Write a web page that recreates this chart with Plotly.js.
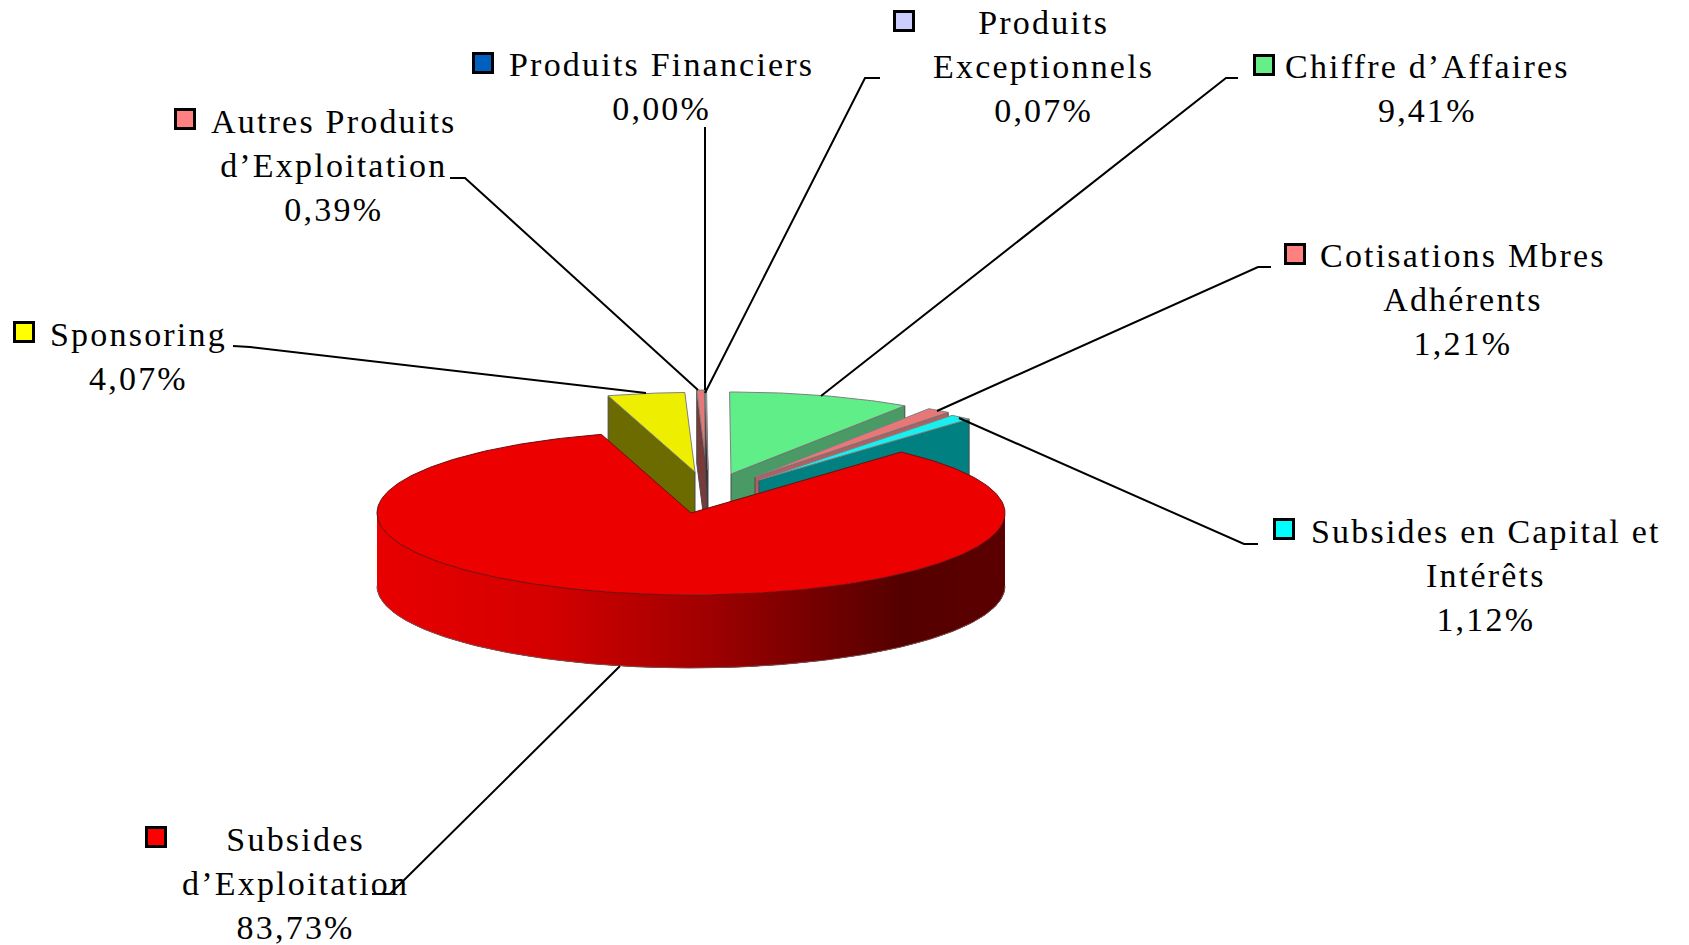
<!DOCTYPE html>
<html><head><meta charset="utf-8">
<script src="https://cdn.plot.ly/plotly-3.0.1.min.js"></script>
<style>html,body{margin:0;padding:0;background:#fff}#c{width:1689px;height:945px}
.annotation-text{letter-spacing:2.2px}</style>
</head><body><div id="c"></div>
<script>
// ---- data, in pie order (clockwise from the first slice) ----
const categories = ["Subsides<br>d’Exploitation","Sponsoring","Autres Produits<br>d’Exploitation","Produits Financiers","Produits<br>Exceptionnels","Chiffre d’Affaires","Cotisations Mbres<br>Adhérents","Subsides en Capital et<br>Intérêts"];
const values = [83.73,4.07,0.39,0.00,0.07,9.41,1.21,1.12];
const keyColors = ["#ff0000","#ffff00","#ff8080","#0060c0","#ccccff","#66ee88","#ff8080","#00ffff"];
const topColors = ["#ec0000","#eeee00","#e87878","#0060c0","#c0c0f0","#60ee88","#e87878","#18f0f0"];
const sideColors = ["#a00000","#6b6b00","#7a3a3a","#003060","#3a2a3a","#4a9a66","#b06060","#008080"];
// ---- layout of the drawing (axis units = pixels) ----
const cx = 691, cy = 513, rx = 314, ry = 82, depth = 73, startAngle = 42;
const sliceScale = [1,0.97,0.975,0.975,0.975,1,1,1];
const sliceShiftX = [0,4,16,17,17,40,64,68];
const sliceShiftY = [0,-41,-43,-43,-43,-39,-36,-33];
const labelX = [295,138,334,661,1043,1427,1463,1486];
const labelY = [883,356,165,86,66,88,299,575];
const keyX = [156,24,185,483,904,1264,1295,1284];
const keyY = [837,332,119,63,21,65,254,529];
const leaderX = [[620,390,372],[646,250,233],[698,465,450],[705,705],[705,865,880],[821,1226,1238],[937,1258,1271],[959,1244,1258]];
const leaderY = [[666,894,894],[393,347,346],[390,178,178],[390,127],[393,78,78],[396,78,78],[411,267,267],[418,544,544]];
const wallStopX = [377,546,707,794,902,1005];
const wallStopRed = [232,212,160,125,85,92];

const rad = d => d*Math.PI/180;
const px = (a,r,dx) => cx + dx + rx*r*Math.sin(rad(a));
const py = (a,r,dy) => cy + dy - ry*r*Math.cos(rad(a));
const poly = (x,y,fill,line,w) => ({type:'scatter',mode:'lines',x,y,fill:'toself',fillcolor:fill,
  line:{color:line,width:w===undefined?1:w},hoverinfo:'skip',showlegend:false});

// slice angles from values
const total = values.reduce((a,b)=>a+b,0);
let acc = startAngle; const slices = values.map((v,i)=>{const s=acc; acc+=v/total*360; return {i,s,e:acc};});

function topFace(sl){
  const {i,s,e}=sl, xs=[cx+sliceShiftX[i]], ys=[cy+sliceShiftY[i]], n=Math.max(2,Math.ceil(e-s));
  for(let k=0;k<=n;k++){const a=s+(e-s)*k/n; xs.push(px(a,sliceScale[i],sliceShiftX[i])); ys.push(py(a,sliceScale[i],sliceShiftY[i]));}
  xs.push(xs[0]); ys.push(ys[0]);
  return poly(xs,ys,topColors[i],i===0?'#6a1010':'#808080',1);
}
function radialFace(sl,a){
  const {i}=sl, ax=cx+sliceShiftX[i], ay=cy+sliceShiftY[i], ox=px(a,sliceScale[i],sliceShiftX[i]), oy=py(a,sliceScale[i],sliceShiftY[i]);
  return poly([ax,ox,ox,ax,ax],[ay,oy,oy+depth,ay+depth,ay],sideColors[i],'#4a4a4a',1);
}
const traces=[];
// exploded slices, back to front order, left group then right group
[1,2,4].forEach(i=>{ if(values[i]>0){traces.push(radialFace(slices[i],slices[i].s)); traces.push(topFace(slices[i]));} });
[5,6,7].forEach(i=>{ traces.push(radialFace(slices[i],slices[i].e)); traces.push(topFace(slices[i])); });

// main slice: wall strips shaded along x; each strip overlaps the next so no seams appear
function wallRed(x){
  for(let k=1;k<wallStopX.length;k++){ if(x<=wallStopX[k]){const t=(x-wallStopX[k-1])/(wallStopX[k]-wallStopX[k-1]);
    return Math.round(wallStopRed[k-1]+t*(wallStopRed[k]-wallStopRed[k-1]));}}
  return wallStopRed[wallStopRed.length-1];
}
const wallStep=0.75;
for(let a=90;a<270;a+=wallStep){
  const b=a+wallStep, e=Math.min(270,a+3*wallStep);
  const xs=[],ys=[];
  for(let t=a;t<=e+1e-6;t+=wallStep){xs.push(px(t,1,0));ys.push(py(t,1,0));}
  for(let k=xs.length-1;k>=0;k--){xs.push(xs[k]);ys.push(ys[k]+depth);}
  xs.push(xs[0]);ys.push(ys[0]);
  const c='rgb('+wallRed((px(a,1,0)+px(b,1,0))/2)+',0,0)';
  traces.push(poly(xs,ys,c,c,0));
}
traces.push({type:'scatter',mode:'lines',hoverinfo:'skip',showlegend:false,
  x:[...Array(181).keys()].map(k=>px(90+k,1,0)),
  y:[...Array(181).keys()].map(k=>py(90+k,1,0)+depth),line:{color:'#7a5050',width:1}});
traces.push(topFace(slices[0]));

// leader lines
leaderX.forEach((xs,i)=>traces.push({type:'scatter',mode:'lines',x:xs,y:leaderY[i],line:{color:'#000',width:2},hoverinfo:'skip',showlegend:false}));
// legend keys
traces.push({type:'scatter',mode:'markers',x:keyX,y:keyY,hoverinfo:'skip',showlegend:false,
  marker:{symbol:'square',size:19,color:keyColors,line:{color:'#000',width:3}}});

const annotations = categories.map((c,i)=>({x:labelX[i],y:labelY[i],xref:'x',yref:'y',showarrow:false,align:'center',
  xanchor:'center',yanchor:'middle',text:c+'<br>'+values[i].toFixed(2).replace('.',',')+'%',
  font:{family:'"Liberation Serif",serif',size:34,color:'#000'}}));

Plotly.newPlot('c',traces,{width:1689,height:945,margin:{l:0,r:0,t:0,b:0},paper_bgcolor:'#fff',plot_bgcolor:'#fff',
  xaxis:{range:[0,1689],visible:false,fixedrange:true},yaxis:{range:[945,0],visible:false,fixedrange:true},
  showlegend:false,annotations},{staticPlot:true,displayModeBar:false});
</script></body></html>
